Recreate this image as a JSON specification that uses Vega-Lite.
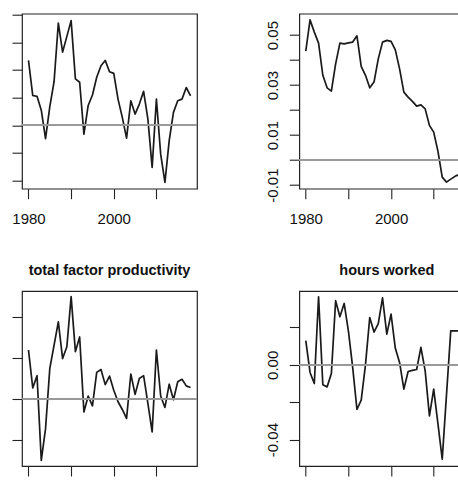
{
  "$schema": "https://vega.github.io/schema/vega-lite/v6.json",
  "padding": {"left": 10, "top": 12.7, "right": -15, "bottom": 0},
  "background": "white",
  "datasets": {
    "macro": [
      {"year": 1980, "gdp": 0.0235, "potential": 0.0436, "tfp": 0.0120, "hours": 0.0129},
      {"year": 1981, "gdp": 0.0108, "potential": 0.0561, "tfp": 0.0027, "hours": -0.0041},
      {"year": 1982, "gdp": 0.0105, "potential": 0.0512, "tfp": 0.0057, "hours": -0.0100},
      {"year": 1983, "gdp": 0.0055, "potential": 0.0468, "tfp": -0.0151, "hours": 0.0364},
      {"year": 1984, "gdp": -0.0048, "potential": 0.0339, "tfp": -0.0073, "hours": -0.0107},
      {"year": 1985, "gdp": 0.0068, "potential": 0.0289, "tfp": 0.0075, "hours": -0.0118},
      {"year": 1986, "gdp": 0.0158, "potential": 0.0276, "tfp": 0.0132, "hours": -0.0047},
      {"year": 1987, "gdp": 0.0370, "potential": 0.0385, "tfp": 0.0189, "hours": 0.0343},
      {"year": 1988, "gdp": 0.0265, "potential": 0.0468, "tfp": 0.0099, "hours": 0.0257},
      {"year": 1989, "gdp": 0.0322, "potential": 0.0465, "tfp": 0.0128, "hours": 0.0328},
      {"year": 1990, "gdp": 0.0379, "potential": 0.0469, "tfp": 0.0251, "hours": 0.0180},
      {"year": 1991, "gdp": 0.0168, "potential": 0.0472, "tfp": 0.0116, "hours": -0.0014},
      {"year": 1992, "gdp": 0.0156, "potential": 0.0497, "tfp": 0.0152, "hours": -0.0239},
      {"year": 1993, "gdp": -0.0032, "potential": 0.0375, "tfp": -0.0032, "hours": -0.0189},
      {"year": 1994, "gdp": 0.0072, "potential": 0.0339, "tfp": 0.0007, "hours": 0.0000},
      {"year": 1995, "gdp": 0.0110, "potential": 0.0289, "tfp": -0.0017, "hours": 0.0253},
      {"year": 1996, "gdp": 0.0174, "potential": 0.0312, "tfp": 0.0065, "hours": 0.0175},
      {"year": 1997, "gdp": 0.0216, "potential": 0.0405, "tfp": 0.0072, "hours": 0.0220},
      {"year": 1998, "gdp": 0.0235, "potential": 0.0472, "tfp": 0.0035, "hours": 0.0358},
      {"year": 1999, "gdp": 0.0194, "potential": 0.0479, "tfp": 0.0056, "hours": 0.0164},
      {"year": 2000, "gdp": 0.0188, "potential": 0.0475, "tfp": 0.0021, "hours": 0.0271},
      {"year": 2001, "gdp": 0.0095, "potential": 0.0441, "tfp": -0.0007, "hours": 0.0088},
      {"year": 2002, "gdp": 0.0029, "potential": 0.0365, "tfp": -0.0026, "hours": 0.0013},
      {"year": 2003, "gdp": -0.0046, "potential": 0.0272, "tfp": -0.0048, "hours": -0.0130},
      {"year": 2004, "gdp": 0.0089, "potential": 0.0252, "tfp": 0.0061, "hours": -0.0036},
      {"year": 2005, "gdp": 0.0041, "potential": 0.0235, "tfp": 0.0011, "hours": -0.0030},
      {"year": 2006, "gdp": 0.0077, "potential": 0.0216, "tfp": 0.0050, "hours": -0.0025},
      {"year": 2007, "gdp": 0.0123, "potential": 0.0221, "tfp": 0.0057, "hours": 0.0093},
      {"year": 2008, "gdp": 0.0023, "potential": 0.0205, "tfp": -0.0011, "hours": -0.0032},
      {"year": 2009, "gdp": -0.0152, "potential": 0.0139, "tfp": -0.0081, "hours": -0.0273},
      {"year": 2010, "gdp": 0.0095, "potential": 0.0112, "tfp": 0.0120, "hours": -0.0130},
      {"year": 2011, "gdp": -0.0104, "potential": 0.0035, "tfp": 0.0007, "hours": -0.0316},
      {"year": 2012, "gdp": -0.0206, "potential": -0.0068, "tfp": -0.0021, "hours": -0.0505},
      {"year": 2013, "gdp": -0.0055, "potential": -0.0088, "tfp": 0.0036, "hours": -0.0161},
      {"year": 2014, "gdp": 0.0047, "potential": -0.0076, "tfp": -0.0002, "hours": 0.0182},
      {"year": 2015, "gdp": 0.0089, "potential": -0.0065, "tfp": 0.0042, "hours": 0.0182},
      {"year": 2016, "gdp": 0.0095, "potential": -0.0057, "tfp": 0.0048, "hours": 0.0182},
      {"year": 2017, "gdp": 0.0137, "potential": -0.0050, "tfp": 0.0032, "hours": 0.0236},
      {"year": 2018, "gdp": 0.0107, "potential": -0.0045, "tfp": 0.0028, "hours": 0.0280}
    ]
  },
  "data": {"name": "macro"},
  "columns": 2,
  "spacing": {"row": 102.3, "column": 102.3},
  "bounds": "flush",
  "concat": [
    {
      "width": 175, "height": 175,
      "layer": [
        {
          "mark": {"type": "line", "color": "#1a1a1a", "strokeWidth": 1.7, "strokeJoin": "round"},
          "encoding": {
            "x": {"field": "year", "type": "quantitative", "scale": {"domain": [1978.48, 2019.52], "nice": false, "zero": false},
                  "axis": {"title": null, "values": [1980, 1990, 2000, 2010], "labelExpr": "datum.value == 1980 || datum.value == 2000 ? format(datum.value, 'd') : ''", "labelPadding": 13}},
            "y": {"field": "gdp", "type": "quantitative", "scale": {"domain": [-0.0229, 0.0404], "nice": false, "zero": false},
                  "axis": {"title": null, "values": [-0.02, -0.01, 0, 0.01, 0.02, 0.03, 0.04], "labels": false}}
          }
        },
        {
          "mark": {"type": "rule", "color": "#9a9a9a", "strokeWidth": 1},
          "encoding": {"y": {"datum": 0, "type": "quantitative"}}
        }
      ]
    },
    {
      "width": 175, "height": 175,
      "layer": [
        {
          "mark": {"type": "line", "color": "#1a1a1a", "strokeWidth": 1.7, "strokeJoin": "round"},
          "encoding": {
            "x": {"field": "year", "type": "quantitative", "scale": {"domain": [1978.48, 2019.52], "nice": false, "zero": false},
                  "axis": {"title": null, "values": [1980, 1990, 2000, 2010], "labelExpr": "datum.value == 1980 || datum.value == 2000 ? format(datum.value, 'd') : ''", "labelPadding": 13}},
            "y": {"field": "potential", "type": "quantitative", "scale": {"domain": [-0.01144, 0.05856], "nice": false, "zero": false},
                  "axis": {"title": null, "values": [-0.01, 0, 0.01, 0.02, 0.03, 0.04, 0.05], "labelExpr": "round(datum.value * 100) % 2 != 0 ? replace(format(datum.value, '.2f'), '\u2212', '-') : ''", "labelAngle": 270, "labelAlign": "center", "labelBaseline": "alphabetic", "labelPadding": 12}}
          }
        },
        {
          "mark": {"type": "rule", "color": "#9a9a9a", "strokeWidth": 1},
          "encoding": {"y": {"datum": 0, "type": "quantitative"}}
        }
      ]
    },
    {
      "width": 175, "height": 175,
      "title": {"text": "total factor productivity"},
      "layer": [
        {
          "mark": {"type": "line", "color": "#1a1a1a", "strokeWidth": 1.7, "strokeJoin": "round"},
          "encoding": {
            "x": {"field": "year", "type": "quantitative", "scale": {"domain": [1978.48, 2019.52], "nice": false, "zero": false},
                  "axis": {"title": null, "values": [1980, 1990, 2000, 2010], "labels": false}},
            "y": {"field": "tfp", "type": "quantitative", "scale": {"domain": [-0.01647, 0.02648], "nice": false, "zero": false},
                  "axis": {"title": null, "values": [-0.01, 0, 0.01, 0.02], "labels": false}}
          }
        },
        {
          "mark": {"type": "rule", "color": "#9a9a9a", "strokeWidth": 1},
          "encoding": {"y": {"datum": 0, "type": "quantitative"}}
        }
      ]
    },
    {
      "width": 175, "height": 175,
      "title": {"text": "hours worked"},
      "layer": [
        {
          "mark": {"type": "line", "color": "#1a1a1a", "strokeWidth": 1.7, "strokeJoin": "round"},
          "encoding": {
            "x": {"field": "year", "type": "quantitative", "scale": {"domain": [1978.48, 2019.52], "nice": false, "zero": false},
                  "axis": {"title": null, "values": [1980, 1990, 2000, 2010], "labels": false}},
            "y": {"field": "hours", "type": "quantitative", "scale": {"domain": [-0.05411, 0.03948], "nice": false, "zero": false},
                  "axis": {"title": null, "values": [-0.04, -0.02, 0, 0.02], "labelExpr": "round(datum.value * 100) == 0 || round(datum.value * 100) == -4 ? replace(format(datum.value, '.2f'), '\u2212', '-') : ''", "labelAngle": 270, "labelAlign": "center", "labelBaseline": "alphabetic", "labelPadding": 12}}
          }
        },
        {
          "mark": {"type": "rule", "color": "#9a9a9a", "strokeWidth": 1},
          "encoding": {"y": {"datum": 0, "type": "quantitative"}}
        }
      ]
    }
  ],
  "config": {
    "view": {"stroke": "#222222", "strokeWidth": 1.2},
    "font": "Liberation Sans",
    "axis": {
      "domain": false,
      "grid": false,
      "ticks": true,
      "tickCount": 20,
      "tickColor": "#222222",
      "tickSize": 10,
      "tickWidth": 1.1,
      "tickRound": true,
      "labelFont": "Liberation Sans",
      "labelFontSize": 15,
      "labelColor": "#111111",
      "labelOverlap": false,
      "labelFlush": false
    },
    "title": {
      "font": "Liberation Sans",
      "fontSize": 14.5,
      "fontWeight": "bold",
      "color": "#111111",
      "anchor": "middle",
      "baseline": "alphabetic",
      "offset": 12
    }
  }
}
